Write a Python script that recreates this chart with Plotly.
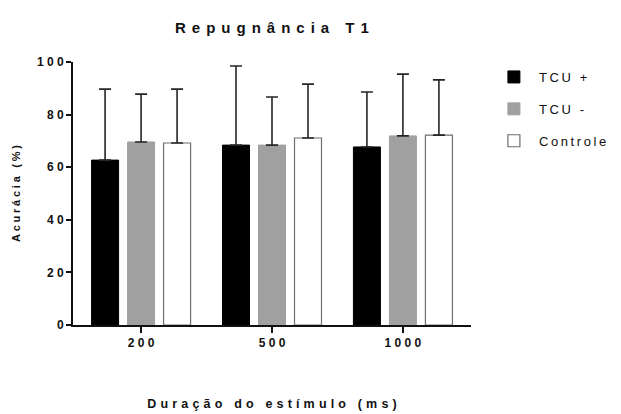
import plotly.graph_objects as go

categories = ["200", "500", "1000"]
series_names = ["TCU +", "TCU -", "Controle"]
tcu_pos = [62.7, 68.4, 67.7]
tcu_pos_err = [27.0, 30.1, 20.9]
tcu_neg = [69.6, 68.4, 71.9]
tcu_neg_err = [18.2, 18.3, 23.5]
controle = [69.2, 71.1, 72.2]
controle_err = [20.5, 20.5, 21.0]
y_ticks = [0, 20, 40, 60, 80, 100]

def spaced(s, sep="\u2009"):
    return sep.join(list(s))

FONT = "Liberation Sans, Arial, sans-serif"

fig = go.Figure()
styles = [
    dict(color="#000000", line=dict(color="#000000", width=1)),
    dict(color="#a0a0a0", line=dict(color="#a0a0a0", width=1)),
    dict(color="#ffffff", line=dict(color="#6e6e6e", width=1.2)),
]
for i, (name, vals, errs, st) in enumerate(zip(series_names,
                                [tcu_pos, tcu_neg, controle],
                                [tcu_pos_err, tcu_neg_err, controle_err],
                                styles)):
    fig.add_trace(go.Bar(
        x=categories, y=vals, name=spaced(name, "\u2009"),
        legendgroup=f"g{i}",
        marker=st,
        error_y=dict(type="data", symmetric=False, array=errs,
                     arrayminus=[0] * len(errs), color="#262626",
                     thickness=1.6, width=6),
    ))

fig.update_layout(
    width=621, height=414,
    paper_bgcolor="white", plot_bgcolor="white",
    margin=dict(l=65, r=158, t=54, b=97, autoexpand=False),
    barmode="group", bargap=0.175, bargroupgap=0.25,
    font=dict(family=FONT, color="#111111"),
    title=dict(text=spaced("Repugnância T1", "\u2009\u2009"), x=0.425, xanchor="center",
               y=0.952, yanchor="middle",
               font=dict(size=15, family=FONT, weight="bold", color="#111111")),
    xaxis=dict(
        type="category", range=[-0.52, 2.52],
        showline=True, linecolor="#111111", linewidth=2,
        ticks="outside", ticklen=6, tickwidth=2, tickcolor="#111111",
        tickvals=categories, ticktext=[spaced(c, " ") for c in categories],
        tickfont=dict(size=12, family=FONT, weight="bold"),
        title=dict(text=spaced("Duração do estímulo (ms)", "\u2005\u200a"),
                   font=dict(size=12.5, family=FONT, weight="bold"), standoff=50),
        showgrid=False, zeroline=False,
    ),
    yaxis=dict(
        range=[0, 100],
        showline=True, linecolor="#111111", linewidth=2,
        ticks="outside", ticklen=5, tickwidth=2, tickcolor="#111111",
        tickvals=y_ticks, ticktext=[spaced(str(t), " ") for t in y_ticks],
        tickfont=dict(size=12, family=FONT, weight="bold"),
        title=dict(text=spaced("Acurácia (%)", "\u2005"),
                   font=dict(size=11, family=FONT, weight="bold"), standoff=14),
        showgrid=False, zeroline=False,
    ),
    legend=dict(x=1.045, y=1.0, xanchor="left", yanchor="top",
                font=dict(size=13, family=FONT, color="#111111"),
                itemwidth=40, tracegroupgap=12, bgcolor="rgba(0,0,0,0)"),
)

fig.write_html("out.html")
